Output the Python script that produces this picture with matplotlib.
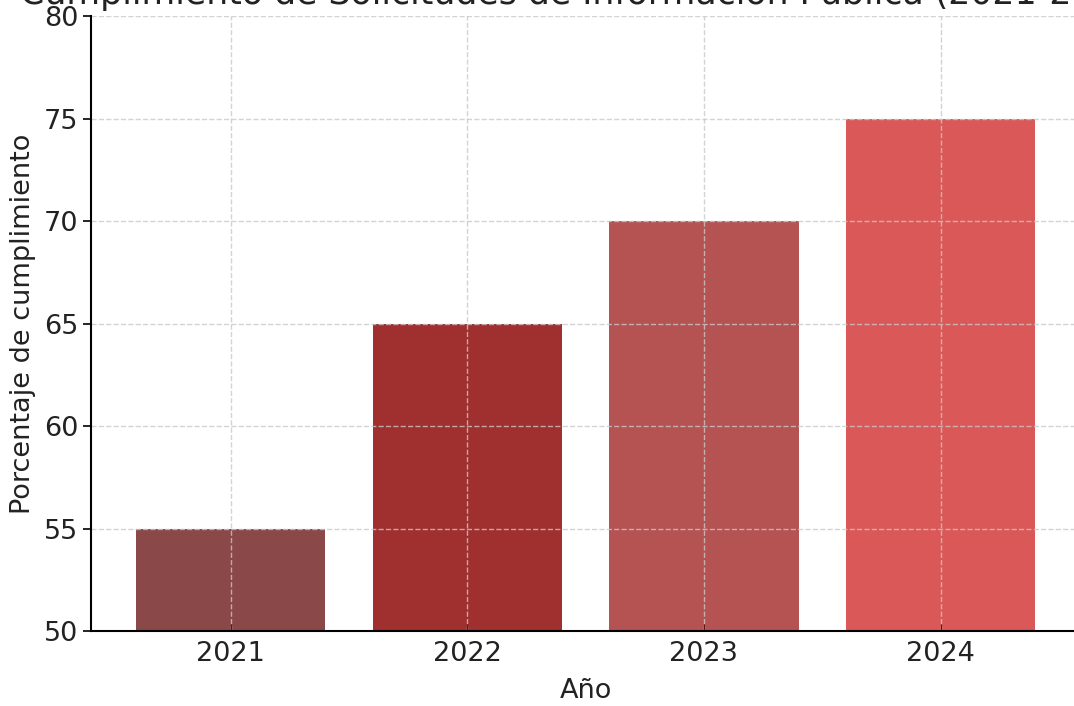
import matplotlib.pyplot as plt

years = ['2021', '2022', '2023', '2024']
cumplimiento = [55, 65, 70, 75]
colores = ['#8A4848', '#A03030', '#B55352', '#DA5857']

fig = plt.figure(figsize=(10.74, 7.06), dpi=100)
ax = fig.add_axes([0.0847, 0.1062, 0.921, 0.8711])

ax.bar(years, cumplimiento, color=colores, width=0.8)
ax.set_ylim(50, 80)
ax.set_title('Cumplimiento de Solicitudes de Información Pública (2021-2024)',
             fontsize=25, pad=9, color='#222222')
ax.set_xlabel('Año', fontsize=19.5, color='#222222', labelpad=8)
ax.set_ylabel('Porcentaje de cumplimiento', fontsize=19.5, color='#222222', labelpad=6)

ax.grid(True, linestyle='--', color='#c8c8c8', linewidth=1, alpha=0.8)
ax.spines['top'].set_visible(False)
ax.spines['right'].set_visible(False)
ax.spines['left'].set_linewidth(1.5)
ax.spines['bottom'].set_linewidth(1.5)
ax.tick_params(axis='both', labelsize=19.5, labelcolor='#222222')
ax.tick_params(axis='x', direction='in', length=5, color='#5a1a1a', pad=7)
ax.tick_params(axis='y', length=6, width=1.2, pad=3)

fig.savefig('out.png', dpi=100)
